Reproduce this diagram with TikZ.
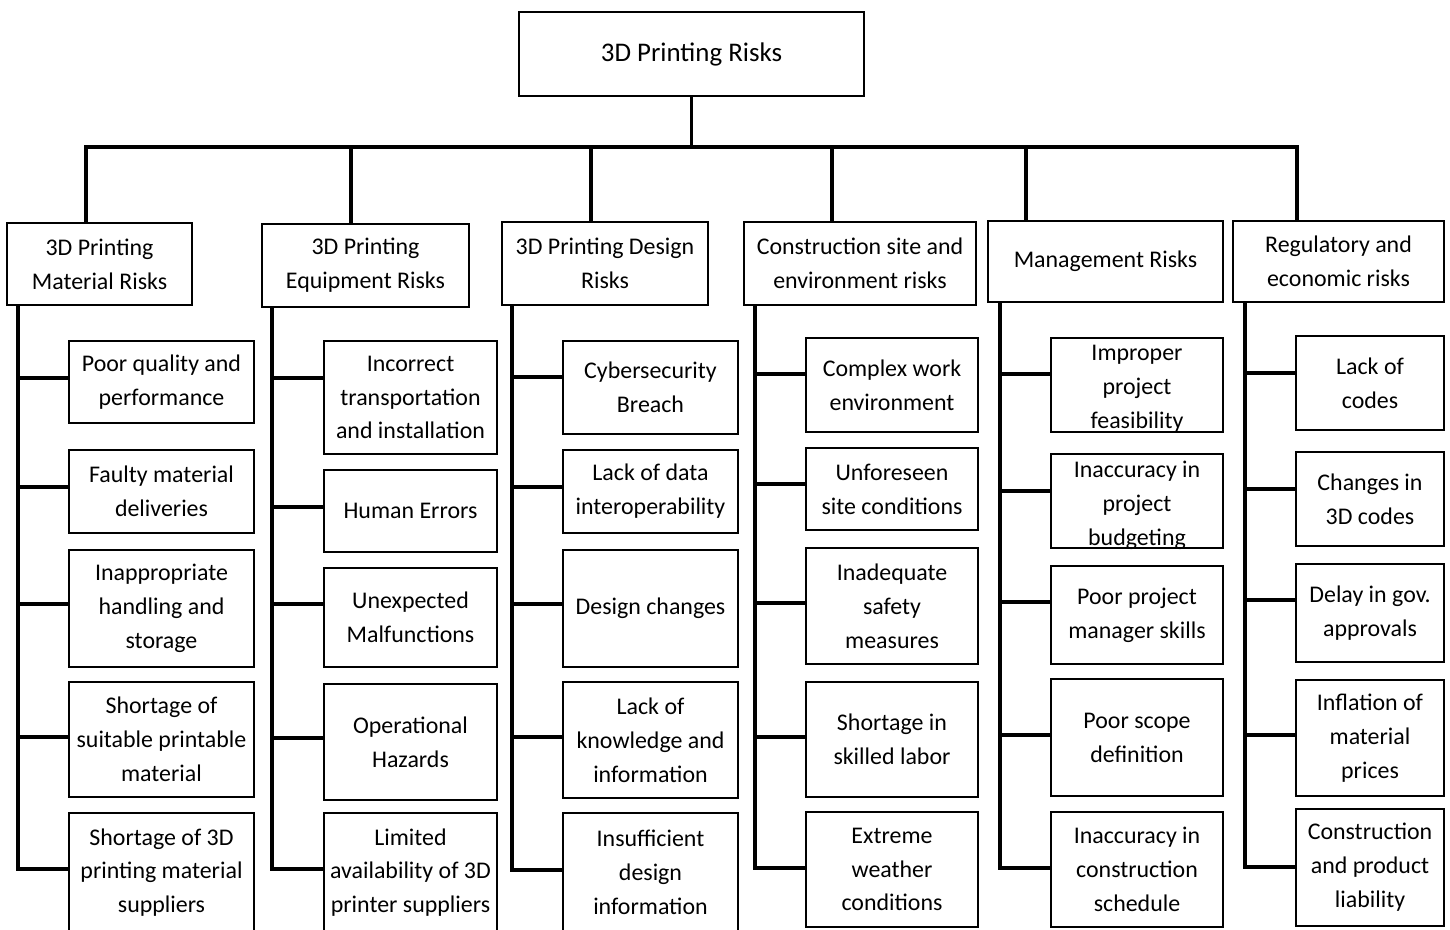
\documentclass[tikz,border=0pt]{standalone}
\usepackage{fontspec}
\setmainfont{Carlito}

\tikzset{every picture/.style={line width=0.75pt}}
\tikzset{
  riskbox/.style={draw, line width=1.7bp, inner sep=0pt, align=center, font=\fontsize{24}{34}\selectfont},
  risktext/.style={inner sep=0pt, align=center, font=\fontsize{24}{34}\selectfont},
  link/.style={line width=3.4bp, line join=miter},
}

\begin{document}
\begin{tikzpicture}[x=1bp,y=1bp,yscale=-1,xscale=1]
    \useasboundingbox (0,0) rectangle (1450,929);

    % Text Node: root
    \node [riskbox, minimum width=345bp, minimum height=84bp, font=\fontsize{27}{32}\selectfont] (root) at (691.5,54) {3D Printing Risks};

    % Text Node: categories
    \node [riskbox, minimum width=185bp, minimum height=82bp] (c1) at (99.5,264) {3D Printing\\Material Risks};
    \node [riskbox, minimum width=207bp, minimum height=83bp] (c2) at (365.5,265.5) {3D Printing\\Equipment Risks};
    \node [riskbox, minimum width=206bp, minimum height=83bp] (c3) at (605,263.5) {3D Printing Design\\Risks};
    \node [riskbox, minimum width=232bp, minimum height=83bp] (c4) at (860,263.5) {Construction site and\\environment risks};
    \node [riskbox, minimum width=235bp, minimum height=81bp] (c5) at (1105.5,261.5) {Management Risks};
    \node [riskbox, minimum width=211bp, minimum height=81bp] (c6) at (1338.5,261.5) {Regulatory and\\economic risks};

    % Text Node: material risks
    \node [riskbox, minimum width=185bp, minimum height=82bp] (m11) at (161.5,382) {Poor quality and\\performance};
    \node [riskbox, minimum width=185bp, minimum height=83bp] (m12) at (161.5,491.5) {Faulty material\\deliveries};
    \node [riskbox, minimum width=185bp, minimum height=117bp] (m13) at (161.5,608.5) {Inappropriate\\handling and\\storage};
    \node [riskbox, minimum width=185bp, minimum height=115bp] (m14) at (161.5,739.5) {Shortage of\\suitable printable\\material};
    \node [riskbox, minimum width=185bp, minimum height=119bp] (m15) at (161.5,872.5) {Shortage of 3D\\printing material\\suppliers};

    % Text Node: equipment risks
    \node [riskbox, minimum width=173bp, minimum height=113bp] (m21) at (410.5,397.5) {Incorrect\\transportation\\and installation};
    \node [riskbox, minimum width=173bp, minimum height=82bp] (m22) at (410.5,511) {Human Errors};
    \node [riskbox, minimum width=173bp, minimum height=99bp] (m23) at (410.5,617.5) {Unexpected\\Malfunctions};
    \node [riskbox, minimum width=173bp, minimum height=116bp] (m24) at (410.5,742) {Operational\\Hazards};
    \node [riskbox, minimum width=173bp, minimum height=119bp] (m25) at (410.5,872.5) {Limited\\availability of 3D\\printer suppliers};

    % Text Node: design risks
    \node [riskbox, minimum width=175bp, minimum height=93bp] (m31) at (650.5,387.5) {Cybersecurity\\Breach};
    \node [riskbox, minimum width=175bp, minimum height=83bp] (m32) at (650.5,491.5) {Lack of data\\interoperability};
    \node [riskbox, minimum width=175bp, minimum height=117bp] (m33) at (650.5,608.5) {Design changes};
    \node [riskbox, minimum width=175bp, minimum height=116bp] (m34) at (650.5,740) {Lack of\\knowledge and\\information};
    \node [riskbox, minimum width=175bp, minimum height=119bp] (m35) at (650.5,872.5) {Insufficient\\design\\information};

    % Text Node: site and environment risks
    \node [riskbox, minimum width=172bp, minimum height=94bp] (m41) at (892,385) {Complex work\\environment};
    \node [riskbox, minimum width=172bp, minimum height=82bp] (m42) at (892,489) {Unforeseen\\site conditions};
    \node [riskbox, minimum width=172bp, minimum height=116bp] (m43) at (892,606) {Inadequate\\safety\\measures};
    \node [riskbox, minimum width=172bp, minimum height=115bp] (m44) at (892,739.5) {Shortage in\\skilled labor};
    \node [riskbox, minimum width=172bp, minimum height=115bp] (m45) at (892,869.5) {Extreme\\weather\\conditions};

    % Text Node: management risks (first two overflow their boxes)
    \node [riskbox, minimum width=172bp, minimum height=94bp] (m51) at (1137,385) {};
    \node [risktext] (m51t) at (1137,389) {Improper\\project\\feasibility};
    \node [riskbox, minimum width=172bp, minimum height=94bp] (m52) at (1137,501) {};
    \node [risktext] (m52t) at (1137,505.5) {Inaccuracy in\\project\\budgeting};
    \node [riskbox, minimum width=172bp, minimum height=98bp] (m53) at (1137,615) {Poor project\\manager skills};
    \node [riskbox, minimum width=172bp, minimum height=117bp] (m54) at (1137,737.5) {Poor scope\\definition};
    \node [riskbox, minimum width=172bp, minimum height=115bp] (m55) at (1137,869.5) {Inaccuracy in\\construction\\schedule};

    % Text Node: regulatory and economic risks
    \node [riskbox, minimum width=148bp, minimum height=94bp] (m61) at (1370,383) {Lack of\\codes};
    \node [riskbox, minimum width=148bp, minimum height=94bp] (m62) at (1370,499) {Changes in\\3D codes};
    \node [riskbox, minimum width=148bp, minimum height=98bp] (m63) at (1370,613) {Delay in gov.\\approvals};
    \node [riskbox, minimum width=148bp, minimum height=116bp] (m64) at (1370,738) {Inflation of\\material\\prices};
    \node [riskbox, minimum width=148bp, minimum height=117bp] (m65) at (1370,867.5) {Construction\\and product\\liability};

    % bus and spine corners
    \coordinate (d1) at (86,147);
    \coordinate (d2) at (351,147);
    \coordinate (d3) at (591,147);
    \coordinate (d4) at (832,147);
    \coordinate (d5) at (1026,147);
    \coordinate (d6) at (1297,147);
    \coordinate (s1) at (18,869);
    \coordinate (s2) at (272,869);
    \coordinate (s3) at (512,870);
    \coordinate (s4) at (755,868);
    \coordinate (s5) at (1000,868);
    \coordinate (s6) at (1245,867);

    %Straight Lines: root to categories
    \draw [link] (root.south) -- (root.south |- d1);
    \draw [link] (d1 |- c1.north) -- (d1) -- (d6) -- (d6 |- c6.north);
    \draw [link] (d2) -- (d2 |- c2.north);
    \draw [link] (d3) -- (d3 |- c3.north);
    \draw [link] (d4) -- (d4 |- c4.north);
    \draw [link] (d5) -- (d5 |- c5.north);

    %Straight Lines: material risks
    \draw [link] (s1 |- c1.south) -- (s1) -- (s1 -| m15.west);
    \draw [link] (s1 |- 0,378) -- (m11.west |- 0,378);
    \draw [link] (s1 |- 0,487) -- (m12.west |- 0,487);
    \draw [link] (s1 |- 0,604) -- (m13.west |- 0,604);
    \draw [link] (s1 |- 0,737) -- (m14.west |- 0,737);

    %Straight Lines: equipment risks
    \draw [link] (s2 |- c2.south) -- (s2) -- (s2 -| m25.west);
    \draw [link] (s2 |- 0,378) -- (m21.west |- 0,378);
    \draw [link] (s2 |- 0,507) -- (m22.west |- 0,507);
    \draw [link] (s2 |- 0,604) -- (m23.west |- 0,604);
    \draw [link] (s2 |- 0,738) -- (m24.west |- 0,738);

    %Straight Lines: design risks
    \draw [link] (s3 |- c3.south) -- (s3) -- (s3 -| m35.west);
    \draw [link] (s3 |- 0,377) -- (m31.west |- 0,377);
    \draw [link] (s3 |- 0,487) -- (m32.west |- 0,487);
    \draw [link] (s3 |- 0,604) -- (m33.west |- 0,604);
    \draw [link] (s3 |- 0,737) -- (m34.west |- 0,737);

    %Straight Lines: site and environment risks
    \draw [link] (s4 |- c4.south) -- (s4) -- (s4 -| m45.west);
    \draw [link] (s4 |- 0,374) -- (m41.west |- 0,374);
    \draw [link] (s4 |- 0,484) -- (m42.west |- 0,484);
    \draw [link] (s4 |- 0,603) -- (m43.west |- 0,603);
    \draw [link] (s4 |- 0,737) -- (m44.west |- 0,737);

    %Straight Lines: management risks
    \draw [link] (s5 |- c5.south) -- (s5) -- (s5 -| m55.west);
    \draw [link] (s5 |- 0,374) -- (m51.west |- 0,374);
    \draw [link] (s5 |- 0,491) -- (m52.west |- 0,491);
    \draw [link] (s5 |- 0,602) -- (m53.west |- 0,602);
    \draw [link] (s5 |- 0,735) -- (m54.west |- 0,735);

    %Straight Lines: regulatory and economic risks
    \draw [link] (s6 |- c6.south) -- (s6) -- (s6 -| m65.west);
    \draw [link] (s6 |- 0,373) -- (m61.west |- 0,373);
    \draw [link] (s6 |- 0,489) -- (m62.west |- 0,489);
    \draw [link] (s6 |- 0,600) -- (m63.west |- 0,600);
    \draw [link] (s6 |- 0,735) -- (m64.west |- 0,735);

\end{tikzpicture}
\end{document}
